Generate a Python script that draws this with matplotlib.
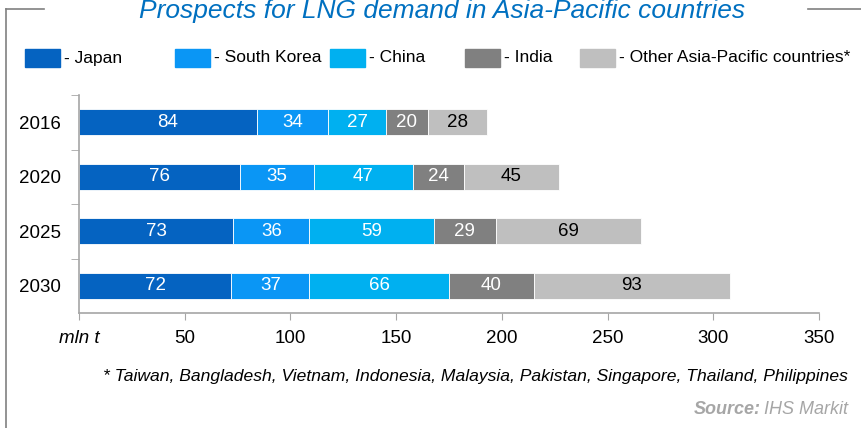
import numpy as np
import matplotlib
matplotlib.use('Agg')
import matplotlib.pyplot as plt
from matplotlib.patches import Rectangle
from matplotlib.lines import Line2D

plt.rcParams['font.family'] = ['Liberation Sans', 'DejaVu Sans']

# data
years = ['2016', '2020', '2025', '2030']
series_names = ['Japan', 'South Korea', 'China', 'India', 'Other Asia-Pacific countries*']
japan = [84, 76, 73, 72]
south_korea = [34, 35, 36, 37]
china = [27, 47, 59, 66]
india = [20, 24, 29, 40]
other = [28, 45, 69, 93]
colors = ['#0563C1', '#0A96F5', '#00B0F0', '#808080', '#BFBFBF']
label_colors = ['white', 'white', 'white', 'white', 'black']
xticks = [0, 50, 100, 150, 200, 250, 300, 350]

W, H = 861, 428
fig = plt.figure(figsize=(W / 100, H / 100), dpi=100)
ax = fig.add_axes([79 / W, 1 - 313 / H, (819 - 79) / W, (313 - 95) / H])

y = np.arange(len(years))
left = np.zeros(len(years))
for vals, c, tc in zip([japan, south_korea, china, india, other], colors, label_colors):
    ax.barh(y, vals, left=left, height=0.48, color=c, edgecolor='white', linewidth=0.6)
    for yi, l, v in zip(y, left, vals):
        ax.text(l + v / 2, yi, str(v), ha='center', va='center', color=tc, fontsize=13.5)
    left = left + np.array(vals)

ax.set_xlim(0, 350)
ax.set_ylim(3.5, -0.5)
ax.set_xticks(xticks)
ax.set_xticklabels(['mln t'] + [str(t) for t in xticks[1:]], fontsize=13.5)
ax.get_xticklabels()[0].set_style('italic')
ax.set_yticks(y)
ax.set_yticklabels(years, fontsize=13.5)
ax.set_yticks([-0.5, 0.5, 1.5, 2.5], minor=True)
ax.tick_params(axis='y', which='major', length=0, pad=13)
ax.tick_params(axis='y', which='minor', length=6, color='#A6A6A6', direction='out')
ax.tick_params(axis='x', length=5, color='#A6A6A6', direction='out', pad=7)
for s in ['top', 'right']:
    ax.spines[s].set_visible(False)
for s in ['left', 'bottom']:
    ax.spines[s].set_color('#A6A6A6')
    ax.spines[s].set_linewidth(1.2)

# title and frame lines
fig.text(442 / W, 1 - 11 / H, 'Prospects for LNG demand in Asia-Pacific countries',
         ha='center', va='center', fontsize=19, style='italic', color='#0070C0')
frame = dict(color='#808080', linewidth=1.2, transform=fig.transFigure)
fig.add_artist(Line2D([6 / W, 6 / W], [0, 1 - 9 / H], **frame))
fig.add_artist(Line2D([6 / W, 44 / W], [1 - 9 / H, 1 - 9 / H], **frame))
fig.add_artist(Line2D([808 / W, 1], [1 - 9 / H, 1 - 9 / H], **frame))

# legend
leg_x = [25, 175, 330, 465, 580]
for name, c, lx in zip(series_names, colors, leg_x):
    fig.add_artist(Rectangle((lx / W, 1 - 67 / H), 35 / W, 18 / H, color=c,
                             transform=fig.transFigure))
    fig.text((lx + 39) / W, 1 - 58 / H, '- ' + name, ha='left', va='center', fontsize=12.5)

# footnote and source
fig.text(848 / W, 1 - 377 / H,
         '* Taiwan, Bangladesh, Vietnam, Indonesia, Malaysia, Pakistan, Singapore, Thailand, Philippines',
         ha='right', va='center', fontsize=12.6, style='italic')
fig.text(848 / W, 1 - 410 / H, 'IHS Markit', ha='right', va='center',
         fontsize=13, style='italic', color='#A6A6A6')
fig.text(761 / W, 1 - 410 / H, 'Source:', ha='right', va='center',
         fontsize=13, style='italic', weight='bold', color='#A6A6A6')

fig.savefig('out.png', dpi=100)
